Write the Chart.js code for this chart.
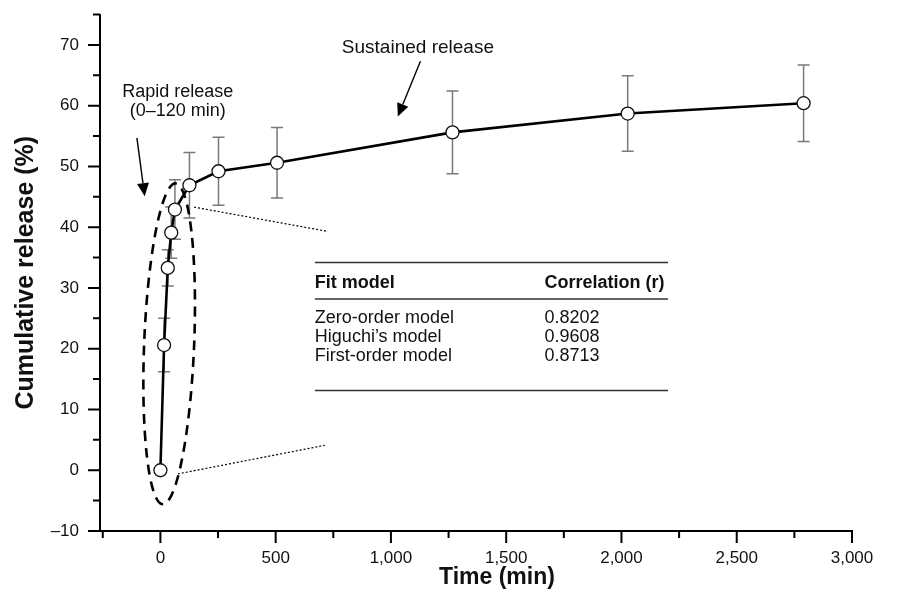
<!DOCTYPE html>
<html>
<head>
<meta charset="utf-8">
<script src="https://cdn.jsdelivr.net/npm/chart.js@4.4.1/dist/chart.umd.min.js"></script>
<style>
  html, body { margin: 0; padding: 0; background: #fff; }
  #wrap { width: 917px; height: 603px; }
</style>
</head>
<body>
<div id="wrap"><canvas id="chart"></canvas></div>
<script>
// values
const timeMin = [0, 16, 32, 47, 63, 126, 252, 506, 1267, 2027, 2790];
const release = [0, 20.6, 33.3, 39.1, 42.9, 46.9, 49.2, 50.6, 55.6, 58.7, 60.4];
const releaseSd = [0, 4.4, 3.0, 4.2, 4.9, 5.4, 5.6, 5.8, 6.8, 6.2, 6.3];

const xTickValues = [-250, 0, 250, 500, 750, 1000, 1250, 1500, 1750, 2000, 2250, 2500, 2750, 3000];
const yTickValues = [-10, -5, 0, 5, 10, 15, 20, 25, 30, 35, 40, 45, 50, 55, 60, 65, 70, 75];

const tableHeader = ['Fit model', 'Correlation (r)'];
const fitModels = ['Zero-order model', 'Higuchi\u2019s model', 'First-order model'];
const fitR = ['0.8202', '0.9608', '0.8713'];

const FONT = '"Liberation Sans", Arial, Helvetica, sans-serif';

function arrow(ctx, x1, y1, x2, y2) {
  const a = Math.atan2(y2 - y1, x2 - x1);
  const len = 13, w = 6;
  const bx = x2 - len * Math.cos(a), by = y2 - len * Math.sin(a);
  ctx.beginPath();
  ctx.moveTo(x1, y1);
  ctx.lineTo(bx, by);
  ctx.lineWidth = 1.4;
  ctx.stroke();
  ctx.beginPath();
  ctx.moveTo(x2, y2);
  ctx.lineTo(bx + w * Math.sin(a), by - w * Math.cos(a));
  ctx.lineTo(bx - w * Math.sin(a), by + w * Math.cos(a));
  ctx.closePath();
  ctx.fill();
}

const extras = {
  id: 'extras',
  beforeDatasetsDraw(chart) {
    const { ctx, scales: { x, y } } = chart;
    ctx.save();
    ctx.strokeStyle = '#7a7a7a';
    ctx.lineWidth = 1.5;
    timeMin.forEach((t, i) => {
      const sd = releaseSd[i];
      if (!sd) return;
      const px = x.getPixelForValue(t);
      const top = y.getPixelForValue(release[i] + sd);
      const bot = y.getPixelForValue(release[i] - sd);
      ctx.beginPath();
      ctx.moveTo(px, top); ctx.lineTo(px, bot);
      ctx.moveTo(px - 6, top); ctx.lineTo(px + 6, top);
      ctx.moveTo(px - 6, bot); ctx.lineTo(px + 6, bot);
      ctx.stroke();
    });
    ctx.restore();
  },
  afterDatasetsDraw(chart) {
    const { ctx, scales: { x, y } } = chart;
    const X = v => x.getPixelForValue(v), Y = v => y.getPixelForValue(v);
    ctx.save();

    // dashed ellipse around the rapid phase
    const x1 = X(66), y1 = Y(47.2), x2 = X(10), y2 = Y(-5.6);
    const cx = (x1 + x2) / 2, cy = (y1 + y2) / 2;
    const half = Math.hypot(x2 - x1, y2 - y1) / 2;
    ctx.beginPath();
    ctx.ellipse(cx, cy, half, 25, Math.atan2(y2 - y1, x2 - x1), 0, Math.PI * 2);
    ctx.setLineDash([10, 7]);
    ctx.lineWidth = 2.6;
    ctx.strokeStyle = '#000';
    ctx.stroke();

    // dotted leader lines to the table
    ctx.setLineDash([2, 2]);
    ctx.lineWidth = 1.2;
    ctx.beginPath();
    ctx.moveTo(X(146), Y(43.3)); ctx.lineTo(X(727), Y(39.3));
    ctx.moveTo(X(76), Y(-0.6)); ctx.lineTo(X(713), Y(4.1));
    ctx.stroke();
    ctx.setLineDash([]);

    // arrows and labels
    ctx.fillStyle = '#000';
    ctx.strokeStyle = '#000';
    arrow(ctx, X(1128), Y(67.3), X(1030), Y(58.2));
    arrow(ctx, X(-102), Y(54.7), X(-68), Y(45.1));
    ctx.textAlign = 'center';
    ctx.textBaseline = 'middle';
    ctx.fillStyle = '#111';
    ctx.font = '19px ' + FONT;
    ctx.fillText('Sustained release', X(1117), Y(69.6));
    ctx.font = '18px ' + FONT;
    ctx.fillText('Rapid release', X(75), Y(62.3));
    ctx.fillText('(0\u2013120 min)', X(75), Y(59.1));

    // correlation table
    const left = X(670), right = X(2202), col2 = X(1666), top = Y(34.2);
    ctx.strokeStyle = '#333';
    ctx.lineWidth = 1.5;
    [0, 36.6, 128].forEach(off => {
      ctx.beginPath();
      ctx.moveTo(left, top + off); ctx.lineTo(right, top + off);
      ctx.stroke();
    });
    ctx.textAlign = 'left';
    ctx.font = 'bold 18px ' + FONT;
    ctx.fillText(tableHeader[0], left, top + 20.6);
    ctx.fillText(tableHeader[1], col2, top + 20.6);
    ctx.font = '18px ' + FONT;
    const rowOff = [55.6, 74.5, 94];
    fitModels.forEach((m, i) => {
      ctx.fillText(m, left, top + rowOff[i]);
      ctx.fillText(fitR[i], col2, top + rowOff[i]);
    });
    ctx.restore();
  },
  afterDraw(chart) {
    // outward tick marks, long at labelled values
    const { ctx, scales: { x, y } } = chart;
    ctx.save();
    ctx.strokeStyle = '#000';
    ctx.lineWidth = 2;
    ctx.beginPath();
    yTickValues.forEach(v => {
      const py = y.getPixelForValue(v);
      const len = v % 10 === 0 ? 12 : 7;
      ctx.moveTo(x.left, py); ctx.lineTo(x.left - len, py);
    });
    xTickValues.forEach(v => {
      const px = x.getPixelForValue(v);
      const len = v % 500 === 0 ? 12 : 7;
      ctx.moveTo(px, y.bottom); ctx.lineTo(px, y.bottom + len);
    });
    ctx.stroke();

    // x-axis title sits a little right of centre in the original
    ctx.fillStyle = '#111';
    ctx.font = 'bold 23px ' + FONT;
    ctx.textAlign = 'center';
    ctx.textBaseline = 'middle';
    ctx.fillText('Time (min)', x.getPixelForValue(1460), 578);
    ctx.restore();
  }
};

new Chart(document.getElementById('chart'), {
  type: 'line',
  data: {
    datasets: [{
      data: timeMin.map((t, i) => ({ x: t, y: release[i] })),
      borderColor: '#000',
      borderWidth: 2.6,
      pointRadius: 6.5,
      pointBackgroundColor: '#fff',
      pointBorderColor: '#111',
      pointBorderWidth: 1.3,
      tension: 0
    }]
  },
  plugins: [extras],
  options: {
    responsive: true,
    maintainAspectRatio: false,
    animation: false,
    events: [],
    layout: { padding: { top: 14.5, right: 65, left: 0, bottom: 0 } },
    plugins: { legend: { display: false }, tooltip: { enabled: false } },
    scales: {
      x: {
        type: 'linear',
        min: -262,
        max: 3000,
        afterFit: s => { s.height = 72; s.paddingLeft = 0; s.paddingRight = 0; },
        afterBuildTicks: s => { s.ticks = xTickValues.map(v => ({ value: v })); },
        grid: { display: false, drawTicks: false },
        border: { display: true, color: '#000', width: 2 },
        ticks: {
          autoSkip: false,
          maxRotation: 0,
          padding: 17,
          color: '#111',
          font: { family: FONT, size: 17 },
          callback: v => (v >= 0 && v % 500 === 0) ? v.toLocaleString('en-US') : ''
        },
        title: { display: false }
      },
      y: {
        min: -10,
        max: 75,
        afterFit: s => { s.width = 100; s.paddingTop = 0; s.paddingBottom = 0; },
        afterBuildTicks: s => { s.ticks = yTickValues.map(v => ({ value: v })); },
        grid: { display: false, drawTicks: false },
        border: { display: true, color: '#000', width: 2 },
        ticks: {
          autoSkip: false,
          padding: 21,
          color: '#111',
          font: { family: FONT, size: 17 },
          callback: v => v % 10 === 0 ? String(v).replace('-', '\u2013') : ''
        },
        title: {
          display: true,
          text: 'Cumulative release (%)',
          color: '#111',
          font: { family: FONT, size: 25, weight: 'bold' },
          padding: { top: 11, bottom: 0 }
        }
      }
    }
  }
});
</script>
</body>
</html>
